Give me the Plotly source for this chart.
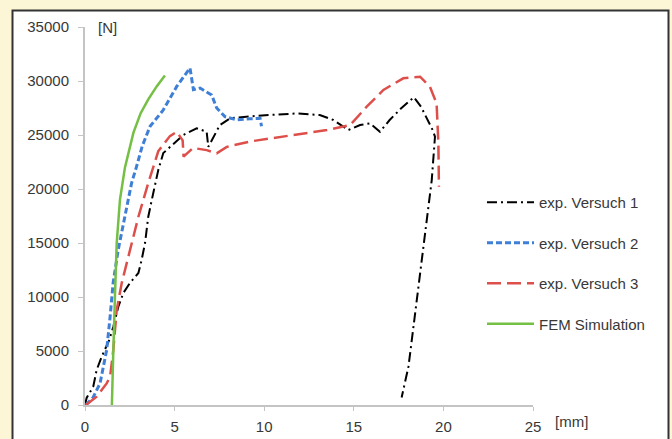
import plotly.graph_objects as go

# ---- data ----
x_v1 = [0.0, 0.09, 0.46, 0.65, 0.93, 1.12, 1.35, 1.58, 1.86, 2.14, 2.51, 2.98, 3.16, 3.35, 3.53, 3.81,
        4.09, 4.37, 4.74, 5.49, 6.23, 6.79, 6.88, 7.16, 7.53, 8.09, 9.0, 10.3, 11.8, 13.1, 13.86, 14.7,
        15.35, 15.9, 16.46, 17.0, 17.6, 18.35, 18.75, 19.4, 19.53, 19.35, 18.97, 18.7, 18.33, 18.05, 17.67]
y_v1 = [0, 650, 1700, 3240, 4470, 5100, 6000, 7250, 9100, 10370, 11300, 12220, 13430, 15000, 17430, 19630,
        21760, 23330, 23900, 25000, 25620, 25300, 23900, 24840, 25930, 26540, 26700, 26850, 27000, 26850, 26390, 25460,
        25930, 26080, 25300, 26390, 27400, 28500, 27620, 25460, 24840, 20830, 15580, 11880, 7250, 3550, 700]

x_v2 = [0.05, 0.45, 0.84, 1.21, 1.4, 1.57, 1.85, 2.23, 2.6, 2.88, 3.2, 3.63, 4.36, 5.12, 5.86, 6.05,
        6.42, 7.07, 7.35, 7.81, 8.47, 9.2, 9.77, 9.85]
y_v2 = [0, 700, 2000, 5100, 8150, 11300, 14350, 17400, 20550, 22100, 24000, 25800, 27300, 29500, 31200, 29200,
        29350, 28700, 27500, 26700, 26400, 26500, 26550, 25800]

x_v3 = [0.05, 0.65, 1.21, 1.4, 1.58, 1.77, 2.05, 2.51, 2.98, 3.53, 4.09, 4.74, 5.12, 5.45, 5.5, 6.03,
        6.79, 7.35, 7.91, 9.21, 10.5, 11.8, 13.5, 14.8, 15.72, 16.65, 17.76, 18.7, 19.25, 19.62, 19.72, 19.75]
y_v3 = [0, 770, 2000, 2620, 5100, 8800, 11300, 14350, 17430, 20550, 23500, 24900, 25300, 24500, 23000, 23800,
        23600, 23300, 23900, 24400, 24700, 25000, 25460, 25930, 27620, 29170, 30250, 30400, 29470, 27930, 24230, 20200]

x_fem = [1.5, 1.52, 1.58, 1.67, 1.77, 1.95, 2.23, 2.7, 3.1, 3.53, 4.0, 4.46]
y_fem = [0, 2000, 5000, 10000, 15000, 19000, 22000, 25200, 27000, 28300, 29500, 30500]

names = ["exp. Versuch 1", "exp. Versuch 2", "exp. Versuch 3", "FEM Simulation"]
x_ticks = [0, 5, 10, 15, 20, 25]
y_ticks = [0, 5000, 10000, 15000, 20000, 25000, 30000, 35000]

FONT = "Liberation Sans, Arial, sans-serif"
TXT = "#383838"
AX = "#c4c4c4"

fig = go.Figure()
fig.add_trace(go.Scatter(x=x_v1, y=y_v1, mode="lines", name=names[0], legendgroup="a",
                         line=dict(color="#000000", width=2, dash="10px,4px,2px,4px")))
fig.add_trace(go.Scatter(x=x_v2, y=y_v2, mode="lines", name=names[1], legendgroup="b",
                         line=dict(color="#3f7fd6", width=3, dash="6px,3px")))
fig.add_trace(go.Scatter(x=x_v3, y=y_v3, mode="lines", name=names[2], legendgroup="c",
                         line=dict(color="#dd4f4a", width=2.5, dash="14px,6px")))
fig.add_trace(go.Scatter(x=x_fem, y=y_fem, mode="lines", name=names[3], legendgroup="d",
                         line=dict(color="#74bf44", width=2.5)))

L, R, T, B = 85, 139, 27, 34
W, H = 672, 439
pw, ph = W - L - R, H - T - B


def px(xp):
    return (xp - L) / pw


def py(yp):
    return (H - B - yp) / ph


fig.add_shape(type="rect", xref="paper", yref="paper",
              x0=px(12.5), x1=px(668.5), y0=py(460), y1=py(10.5),
              fillcolor="white", line=dict(color="#333333", width=2), layer="below")

fig.add_annotation(text="[N]", xref="paper", yref="paper", x=px(96), y=py(27),
                   xanchor="left", yanchor="middle", showarrow=False,
                   font=dict(family=FONT, size=15, color=TXT))
fig.add_annotation(text="[mm]", xref="paper", yref="paper", x=px(553), y=py(421),
                   xanchor="left", yanchor="middle", showarrow=False,
                   font=dict(family=FONT, size=15, color=TXT))

fig.update_layout(
    width=W, height=H,
    margin=dict(l=L, r=R, t=T, b=B, autoexpand=False),
    paper_bgcolor="#fdf6d6",
    plot_bgcolor="rgba(0,0,0,0)",
    font=dict(family=FONT, size=15, color=TXT),
    showlegend=True,
    legend=dict(x=px(482), y=py(186), xanchor="left", yanchor="top",
                bgcolor="rgba(0,0,0,0)", font=dict(family=FONT, size=15, color=TXT),
                tracegroupgap=18, traceorder="grouped", itemwidth=47),
    xaxis=dict(range=[0, 25], tickvals=x_ticks, showgrid=False, zeroline=False, automargin=False,
               showline=True, linecolor=AX, linewidth=2, ticks="outside", ticklen=4,
               tickcolor=AX, tickwidth=1, ticklabelstandoff=3, tickformat="d"),
    yaxis=dict(range=[0, 35000], tickvals=y_ticks, showgrid=False, zeroline=False, automargin=False,
               showline=True, linecolor=AX, linewidth=2, ticks="outside", ticklen=5,
               tickcolor=AX, tickwidth=1, ticklabelstandoff=6, tickformat="d"),
)

fig.write_html("out.html", config={"displayModeBar": False},
               post_script="document.body.style.margin='0';document.body.style.overflow='hidden';")
